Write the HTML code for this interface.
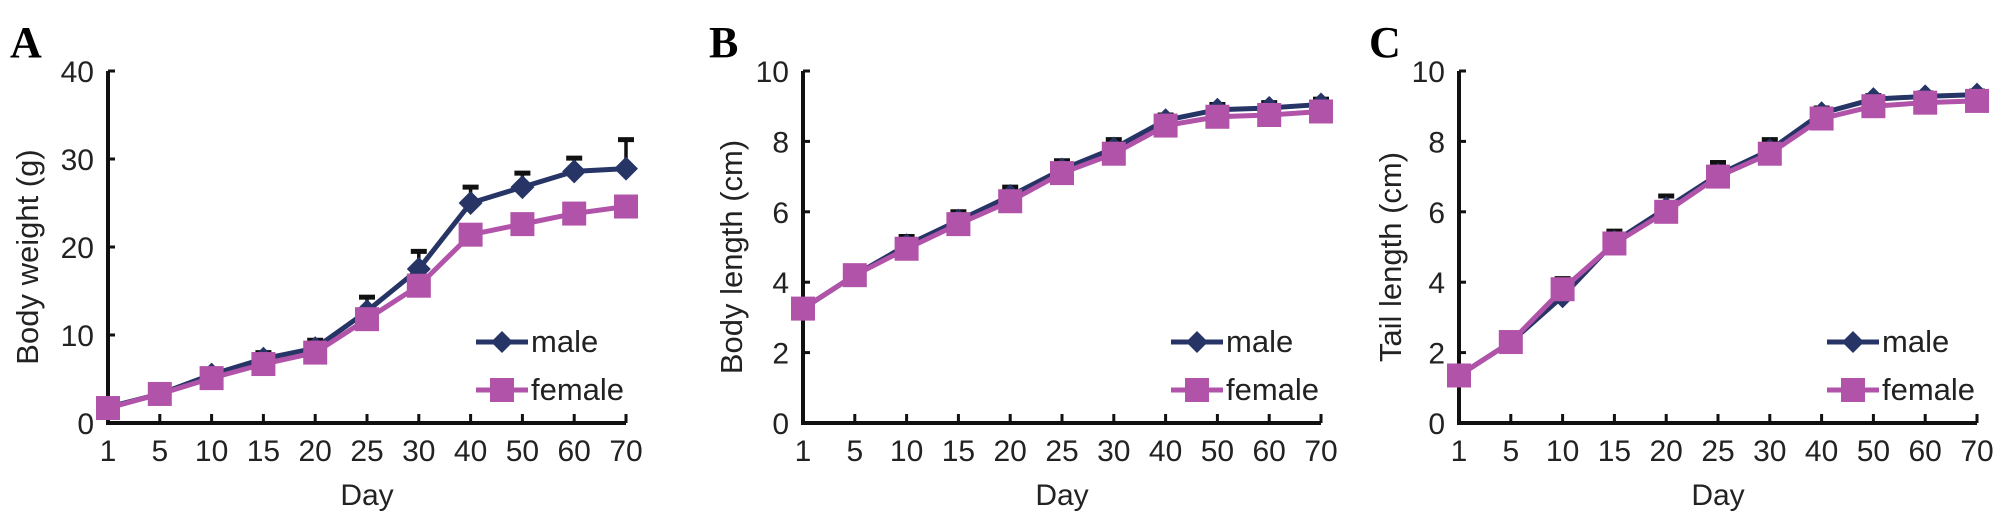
<!DOCTYPE html>
<html><head><meta charset="utf-8"><style>
html,body{margin:0;padding:0;background:#fff;}
svg{display:block;font-family:"Liberation Sans",Arial,sans-serif;}
</style></head><body>
<svg id="fig" width="2008" height="521" viewBox="0 0 2008 521" xmlns="http://www.w3.org/2000/svg"></svg>
<script>
const days = ["1","5","10","15","20","25","30","40","50","60","70"];
const weightMale = [1.8,3.3,5.5,7.3,8.5,12.7,17.5,25,26.8,28.6,28.9];
const weightMaleErr = [0.3,0.3,0.5,0.7,0.9,1.6,2,1.8,1.6,1.5,3.3];
const weightFemale = [1.7,3.3,5.1,6.7,8.0,11.8,15.6,21.4,22.6,23.8,24.6];
const weightFemaleErr = [0.3,0.3,0.4,0.4,0.4,0.5,0.6,0.8,0.8,0.7,1.0];
const bodyMale = [3.25,4.2,5.05,5.75,6.45,7.2,7.8,8.6,8.9,8.95,9.05];
const bodyMaleErr = [0.1,0.1,0.25,0.25,0.25,0.25,0.25,0.15,0.15,0.15,0.15];
const bodyFemale = [3.25,4.2,4.95,5.65,6.3,7.1,7.65,8.45,8.7,8.75,8.85];
const bodyFemaleErr = [0.1,0.1,0.1,0.1,0.1,0.1,0.1,0.1,0.1,0.1,0.1];
const tailMale = [1.35,2.3,3.6,5.15,6.1,7.05,7.75,8.8,9.2,9.28,9.33];
const tailMaleErr = [0.1,0.1,0.5,0.3,0.35,0.35,0.3,0.15,0.1,0.1,0.1];
const tailFemale = [1.35,2.3,3.8,5.1,6.0,7.0,7.65,8.65,9.0,9.1,9.15];
const tailFemaleErr = [0.05,0.05,0.05,0.05,0.05,0.05,0.05,0.05,0.05,0.05,0.05];
const weightTicks = [0,10,20,30,40];
const lengthTicks = [0,2,4,6,8,10];

const NS="http://www.w3.org/2000/svg";
const svg=document.getElementById('fig');
function mk(tag,attrs,parent){const e=document.createElementNS(NS,tag);for(const k in attrs)e.setAttribute(k,attrs[k]);(parent||svg).appendChild(e);return e;}
const MALE="#273466", FEMALE="#b153a9";
const Y0=423, Y1=71;

function panel(letter,x0,titleOff,title,ticks,ymax,male,maleErr,female,femaleErr){
  const g=mk('g',{});
  
  
  const x1=x0+518;
  const xs=i=>x0+i*(x1-x0)/(days.length-1);
  const ys=v=>Y0-(v/ymax)*(Y0-Y1);
  const L=mk('text',{x:0,y:57,'font-family':'"Liberation Serif",serif','font-weight':'bold','font-size':44},g);
  L.setAttribute('x',letter==='A'?10:(letter==='B'?x0-94:x0-90));
  L.textContent=letter;
  
  
  const ax=mk('path',{d:`M${x0} ${Y1}V${Y0}H${x1}`,stroke:'#111',fill:'none','stroke-width':4},g);
  
  
  ticks.forEach(t=>{
    mk('line',{x1:x0,x2:x0+7,y1:ys(t),y2:ys(t),stroke:'#111','stroke-width':3},g);
    const tx=mk('text',{x:x0-14,y:ys(t)+11,'text-anchor':'end','font-size':30,fill:'#222'},g);
    tx.textContent=t;
    
    
  });
  days.forEach((d,i)=>{
    mk('line',{x1:xs(i),x2:xs(i),y1:Y0,y2:Y0-9,stroke:'#111','stroke-width':3},g);
    const tx=mk('text',{x:xs(i),y:Y0+38,'text-anchor':'middle','font-size':30,fill:'#222'},g);
    tx.textContent=d;
    
    
  });
  const xt=mk('text',{x:(x0+x1)/2,y:505,'text-anchor':'middle','font-size':30,fill:'#222'},g);
  xt.textContent='Day';
  
  
  const yt=mk('text',{x:0,y:0,'text-anchor':'middle','font-size':31,fill:'#222',transform:`translate(${x0-titleOff+11},${(Y0+Y1)/2+10}) rotate(-90)`},g);
  yt.textContent=title;
  
  
  function err(vals,errs,color){
    vals.forEach((v,i)=>{
      const y=ys(v+errs[i]);
      mk('line',{x1:xs(i),x2:xs(i),y1:ys(v),y2:y,stroke:color,'stroke-width':3.5},g);
      const c=mk('line',{x1:xs(i)-8,x2:xs(i)+8,y1:y,y2:y,stroke:color,'stroke-width':5},g);
      
      
    });
  }
  err(male,maleErr,'#111');
  err(female,femaleErr,'#222');
  const mline=mk('polyline',{points:male.map((v,i)=>xs(i)+','+ys(v)).join(' '),fill:'none',stroke:MALE,'stroke-width':5},g);
  
  
  male.forEach((v,i)=>{
    const x=xs(i),y=ys(v);
    const p=mk('polygon',{points:`${x},${y-12} ${x+12},${y} ${x},${y+12} ${x-12},${y}`,fill:MALE},g);
    
    
  });
  const fline=mk('polyline',{points:female.map((v,i)=>xs(i)+','+ys(v)).join(' '),fill:'none',stroke:FEMALE,'stroke-width':5},g);
  
  
  female.forEach((v,i)=>{
    const x=xs(i),y=ys(v);
    const r=mk('rect',{x:x-12,y:y-12,width:24,height:24,fill:FEMALE},g);
    
    
  });
  const lx=x0+368;
  const lg=mk('g',{},g);
  
  
  mk('line',{x1:lx,x2:lx+52,y1:342,y2:342,stroke:MALE,'stroke-width':5},lg);
  mk('polygon',{points:`${lx+26},${331} ${lx+37},${342} ${lx+26},${353} ${lx+15},${342}`,fill:MALE},lg);
  const lt1=mk('text',{x:lx+55,y:352,'font-size':31,fill:'#222'},lg);
  lt1.textContent='male';
  
  
  mk('line',{x1:lx,x2:lx+52,y1:390,y2:390,stroke:FEMALE,'stroke-width':5},lg);
  mk('rect',{x:lx+14,y:378,width:24,height:24,fill:FEMALE},lg);
  const lt2=mk('text',{x:lx+55,y:400,'font-size':31,fill:'#222'},lg);
  lt2.textContent='female';
  
  
}
panel('A',108,81,'Body weight (g)',weightTicks,40,weightMale,weightMaleErr,weightFemale,weightFemaleErr);
panel('B',803,72,'Body length (cm)',lengthTicks,10,bodyMale,bodyMaleErr,bodyFemale,bodyFemaleErr);
panel('C',1459,69,'Tail length (cm)',lengthTicks,10,tailMale,tailMaleErr,tailFemale,tailFemaleErr);
</script>
</body></html>
